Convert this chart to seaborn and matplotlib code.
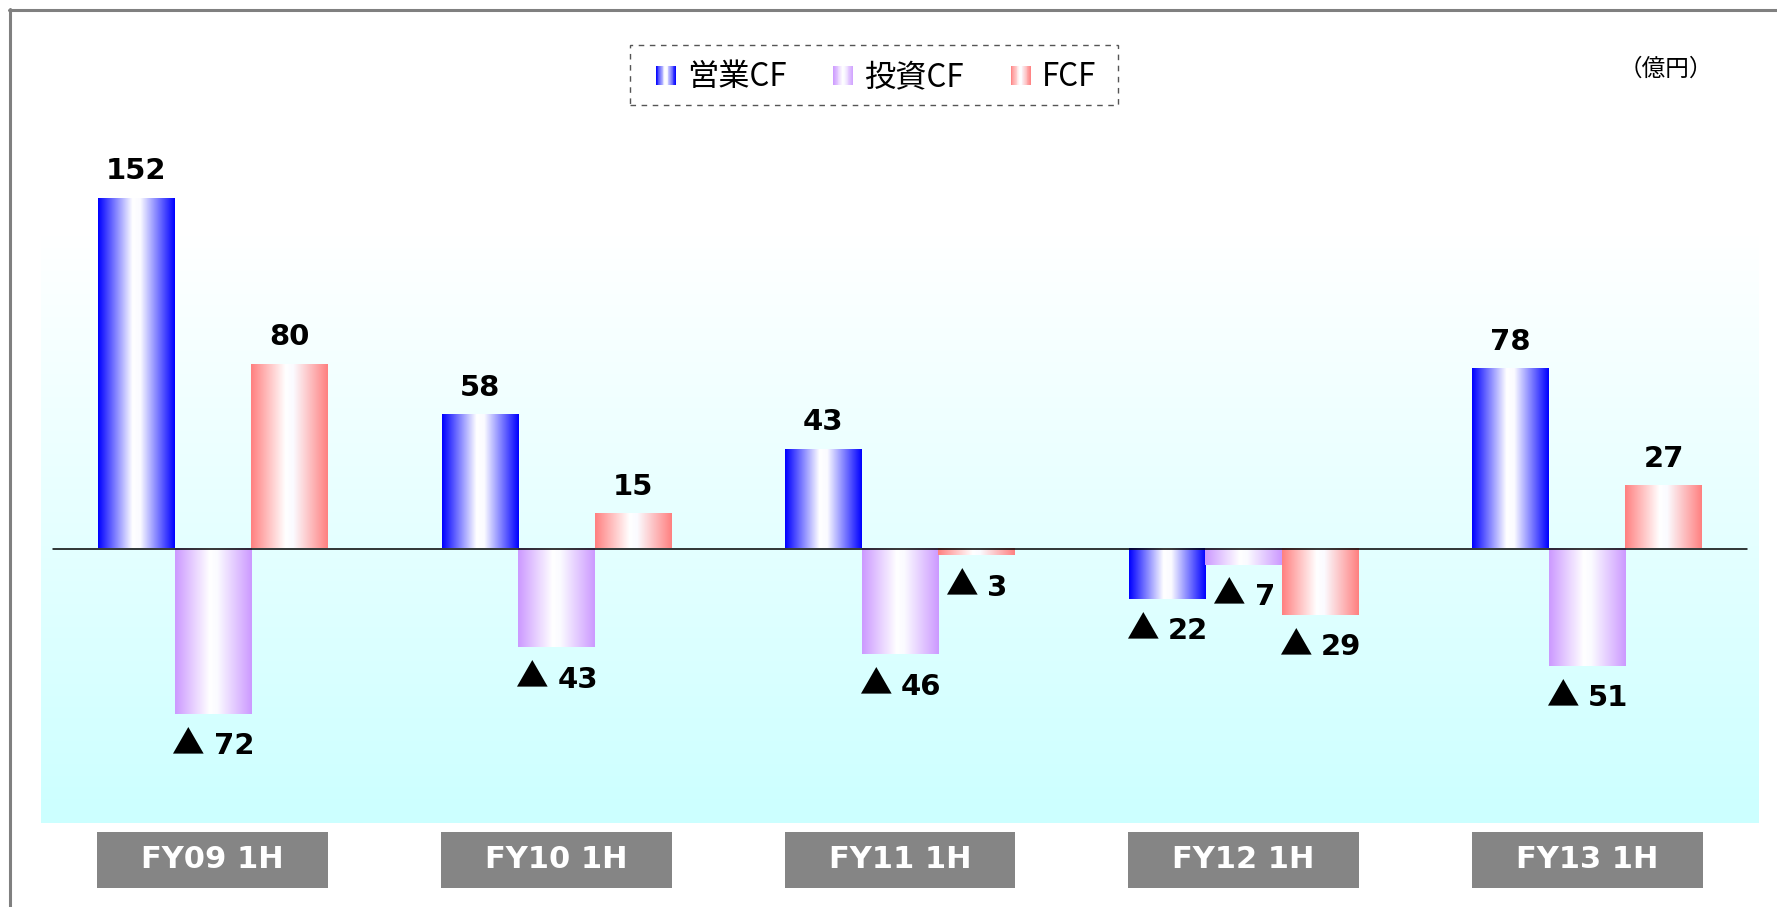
import numpy as np
import pandas as pd
import matplotlib
matplotlib.use("Agg")
import matplotlib.pyplot as plt
import seaborn as sns
from matplotlib.colors import LinearSegmentedColormap
from matplotlib.patches import Rectangle, Patch
from matplotlib.lines import Line2D
from matplotlib.legend_handler import HandlerBase
from matplotlib.transforms import blended_transform_factory
from matplotlib.offsetbox import TextArea, HPacker, AnnotationBbox

periods = ["FY09 1H", "FY10 1H", "FY11 1H", "FY12 1H", "FY13 1H"]
series = ["営業CF", "投資CF", "FCF"]
op_cf = [152, 58, 43, -22, 78]
inv_cf = [-72, -43, -46, -7, -51]
fcf = [80, 15, -3, -29, 27]
unit_label = "（億円）"

edge_colors = {"営業CF": "#0000ff", "投資CF": "#cc99ff", "FCF": "#ff8080"}

df = pd.DataFrame({
    "period": periods * 3,
    "series": [s for s in series for _ in periods],
    "value": op_cf + inv_cf + fcf,
})

sns.set_style("white")
plt.rcParams["font.family"] = ["DejaVu Sans"]
plt.rcParams["text.color"] = "black"
cjk = ["Noto Sans CJK JP", "DejaVu Sans"]

W, H = 1777, 907
fig = plt.figure(figsize=(W / 100, H / 100), dpi=100)


def fx(px):
    return px / W


def fy(px):
    return 1 - px / H


def grad_cmap(c):
    return LinearSegmentedColormap.from_list("g", [(0, c), (0.45, "#ffffff"), (0.55, "#fbfbff"), (1, c)])


# background gradient panel
bg = fig.add_axes([fx(41), fy(823), fx(1718), (823 - 235) / H], zorder=0)
bg_cmap = LinearSegmentedColormap.from_list("bg", ["#ffffff", "#ccffff"])
bg.imshow(np.linspace(0, 1, 256).reshape(-1, 1), cmap=bg_cmap, aspect="auto",
          extent=[0, 1, 0, 1], origin="upper")
bg.axis("off")

ax = fig.add_axes([fx(41), fy(823), fx(1718), (823 - 100) / H], zorder=1)
ax.patch.set_alpha(0)

sns.barplot(data=df, x="period", y="value", hue="series", order=periods,
            hue_order=series, width=0.668, errorbar=None, legend=False,
            palette=edge_colors, ax=ax)

grad = np.linspace(0, 1, 256).reshape(1, -1)
for container, s in zip(ax.containers, series):
    cm = grad_cmap(edge_colors[s])
    for bar in container:
        x0, w = bar.get_x(), bar.get_width()
        y0, h = bar.get_y(), bar.get_height()
        bar.set_facecolor("none")
        bar.set_edgecolor("none")
        ax.imshow(grad, cmap=cm, aspect="auto", extent=[x0, x0 + w, y0, y0 + h],
                  zorder=2)
        v = h
        xc = x0 + w / 2
        if v >= 0:
            ax.annotate(f"{v:.0f}", (xc, v), xytext=(0, 14), textcoords="offset points",
                        ha="center", va="baseline", fontsize=21, fontweight="bold",
                        color="black", zorder=4)
        else:
            # triangle marks a negative value
            tri = TextArea("▲", textprops=dict(family=cjk, fontsize=23.5, color="black"))
            num = TextArea(f"{abs(v):.0f}", textprops=dict(fontsize=21, fontweight="bold",
                                                          color="black"))
            pack = HPacker(children=[tri, num], align="baseline", pad=0, sep=7)
            ab = AnnotationBbox(pack, (xc, v), xybox=(0, -11), boxcoords="offset points",
                                box_alignment=(0.5, 1), frameon=False, pad=0, zorder=4)
            ax.add_artist(ab)

ax.axhline(0, xmin=0.007, xmax=0.993, color="black", lw=1.1, zorder=5)

ax.set_xlim(-0.5, len(periods) - 0.5)
ax.set_ylim(-(823 - 548.5) / 2.30, (548.5 - 100) / 2.30)
ax.set_xticks([])
ax.set_yticks([])
ax.set_xlabel("")
ax.set_ylabel("")
for sp in ax.spines.values():
    sp.set_visible(False)

# category boxes under the plot
tr = blended_transform_factory(ax.transData, fig.transFigure)
for i, p in enumerate(periods):
    ax.add_patch(Rectangle((i - 0.336, fy(888)), 0.672, 56 / H, transform=tr,
                           facecolor="#858585", edgecolor="none", clip_on=False))
    ax.text(i, fy(860), p, transform=tr, ha="center", va="center", color="white",
            fontsize=22, fontweight="bold", clip_on=False)

# legend with gradient handles
class GradHandler(HandlerBase):
    def __init__(self, cmap):
        super().__init__()
        self.cmap = cmap

    def create_artists(self, legend, orig_handle, xdescent, ydescent, width,
                       height, fontsize, trans):
        n = 24
        arts = []
        for k in range(n):
            arts.append(Rectangle((-xdescent + width * k / n, -ydescent),
                                  width / n * 1.1, height,
                                  facecolor=self.cmap((k + 0.5) / n),
                                  edgecolor="none", transform=trans))
        return arts


handles = [Patch(label=s) for s in series]
hmap = {h: GradHandler(grad_cmap(edge_colors[s])) for h, s in zip(handles, series)}
fig.legend(handles=handles, labels=series, handler_map=hmap, loc="center",
           bbox_to_anchor=(fx(876), fy(77.5)), ncol=3, frameon=False,
           prop={"family": cjk, "size": 22.5}, handlelength=0.64, handleheight=0.6,
           handletextpad=0.35, columnspacing=1.5, labelcolor="black")
fig.add_artist(Rectangle((fx(630), fy(105)), fx(488), 60 / H, fill=False,
                         edgecolor="#555555", lw=1, linestyle=(0, (4, 4)),
                         transform=fig.transFigure))

fig.text(fx(1666), fy(69), unit_label, ha="center", va="center", fontsize=17,
         family=cjk, color="black")

# frame lines
fig.add_artist(Line2D([fx(9), 1], [fy(10), fy(10)], transform=fig.transFigure,
                      color="#808080", lw=2.2))
fig.add_artist(Line2D([fx(10), fx(10)], [0, fy(9)], transform=fig.transFigure,
                      color="#808080", lw=2.2))

fig.savefig("out.png", dpi=100)
